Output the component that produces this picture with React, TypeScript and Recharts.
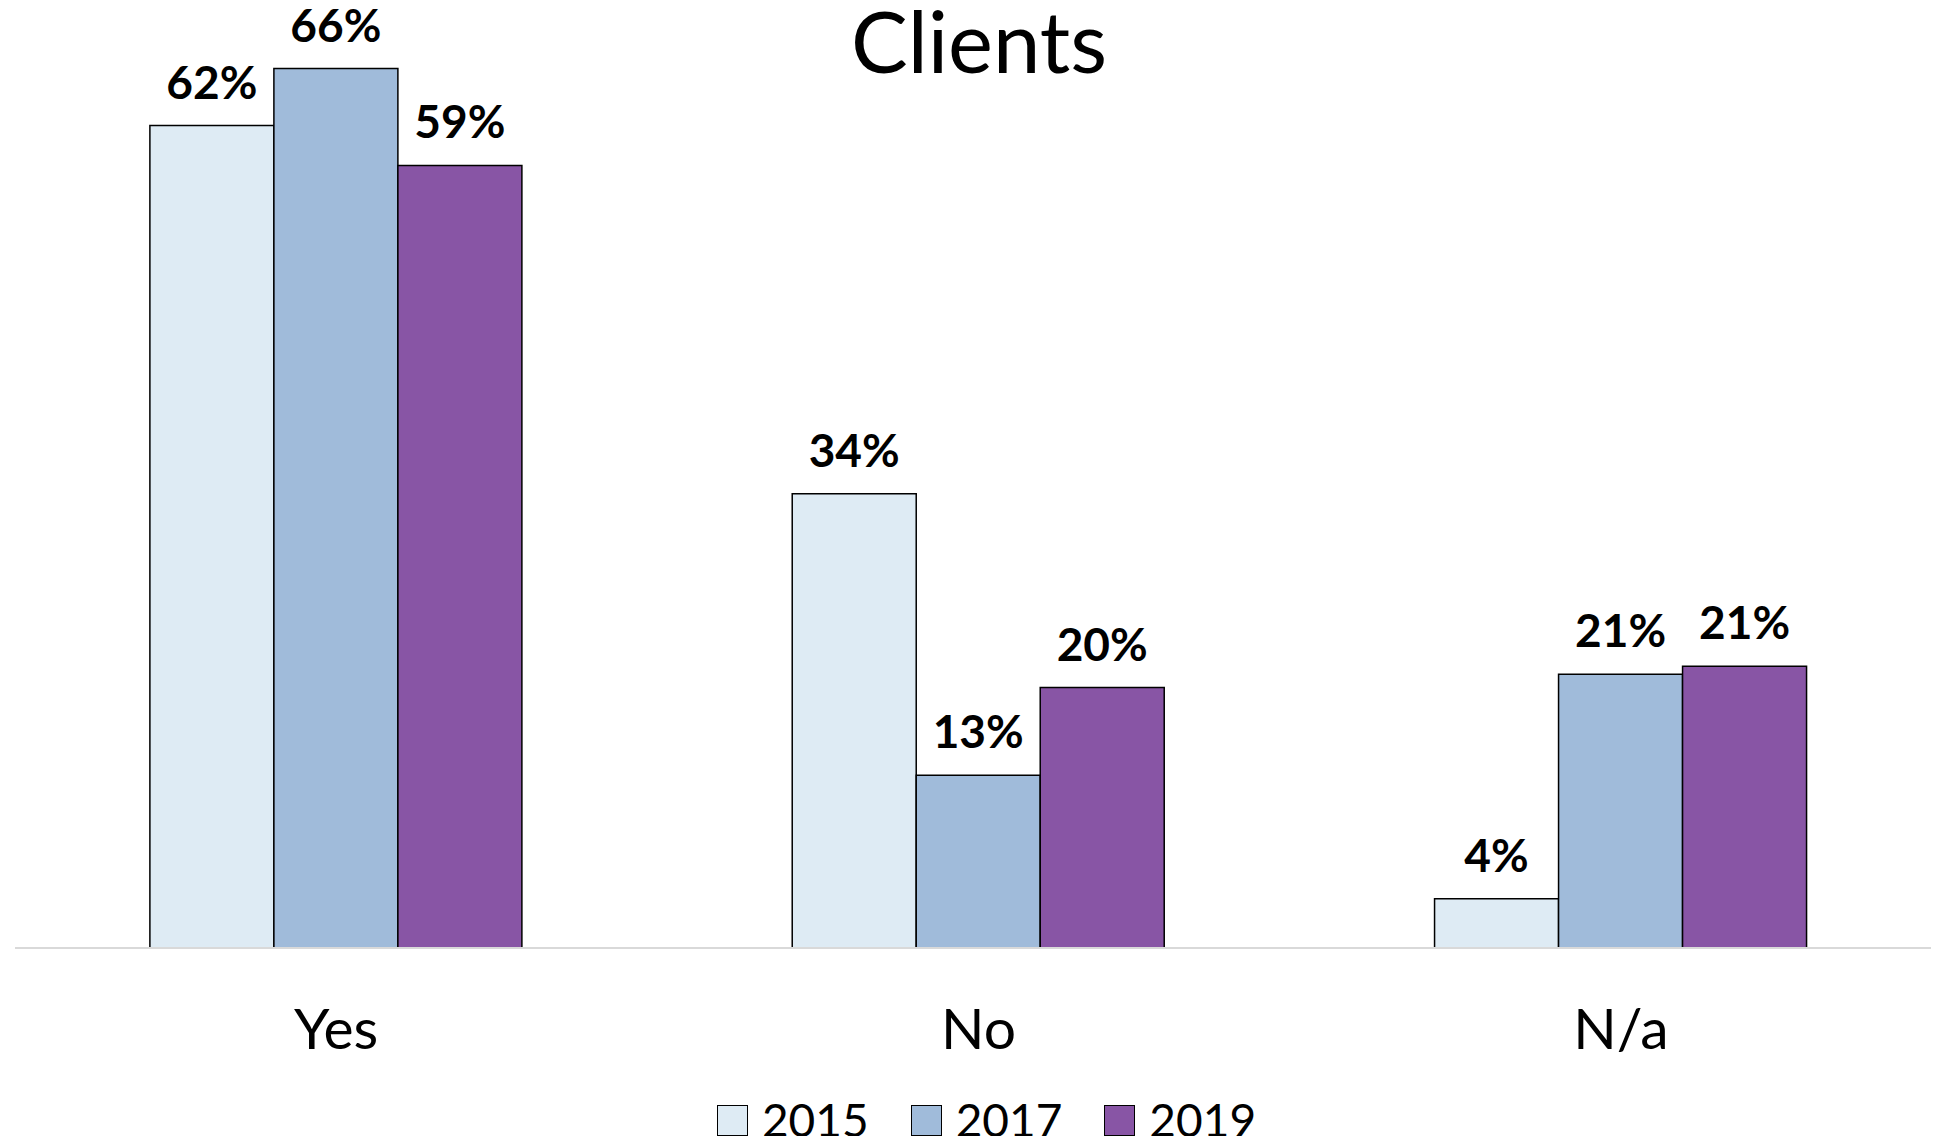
import { Bar, BarChart, LabelList, Legend, XAxis, YAxis } from "recharts";

const CATEGORIES = ["Yes", "No", "N/a"];
const YEARS = ["2015", "2017", "2019"];
const VALUES_2015 = [61.9, 34.2, 3.7];
const VALUES_2017 = [66.2, 13.0, 20.6];
const VALUES_2019 = [58.9, 19.6, 21.2];
const COLORS: Record<string, string> = {
  "2015": "#deebf4",
  "2017": "#a0bbda",
  "2019": "#8855a5",
};

const data = CATEGORIES.map((c, i) => ({
  name: c,
  "2015": VALUES_2015[i],
  "2017": VALUES_2017[i],
  "2019": VALUES_2019[i],
}));

const FONT = "Lato, 'Open Sans', sans-serif";

function CategoryTick({ x, y, payload }: { x?: number; y?: number; payload?: { value: string } }) {
  return (
    <text
      x={x}
      y={(y ?? 0) + 101}
      textAnchor="middle"
      fontFamily={FONT}
      fontSize={57}
      fill="#000"
    >
      {payload?.value}
    </text>
  );
}

function YearLegend() {
  return (
    <div
      style={{
        display: "flex",
        justifyContent: "center",
        alignItems: "center",
        gap: 42,
        fontFamily: FONT,
        fontSize: 46,
        color: "#000",
        paddingLeft: 34,
        height: 40,
      }}
    >
      {YEARS.map((y) => (
        <div key={y} style={{ display: "flex", alignItems: "center", gap: 14, height: 40 }}>
          <span
            style={{
              display: "inline-block",
              boxSizing: "border-box",
              width: 31,
              height: 31,
              background: COLORS[y],
              border: "1.5px solid #000",
            }}
          />
          <span style={{ lineHeight: "40px" }}>{y}</span>
        </div>
      ))}
    </div>
  );
}

const pct = (v: unknown) => `${Math.round(Number(v))}%`;

export default function App() {
  return (
    <div
      style={{
        position: "relative",
        width: 1939,
        height: 1144,
        margin: -8,
        overflow: "hidden",
        background: "#fff",
      }}
    >
      <BarChart
        width={1939}
        height={1144}
        data={data}
        margin={{ top: 18, right: -3, left: 15, bottom: 96 }}
        barCategoryGap="21%"
        barGap={0}
      >
        <XAxis
          dataKey="name"
          height={100}
          axisLine={{ stroke: "#d9d9d9", strokeWidth: 2 }}
          tickLine={false}
          tickSize={0}
          tickMargin={0}
          tick={<CategoryTick />}
        />
        <YAxis hide domain={[0, 70]} />
        <Legend
          layout="horizontal"
          verticalAlign="middle"
          align="center"
          content={<YearLegend />}
          wrapperStyle={{ top: 1100, left: 0, width: 1939, bottom: "auto" }}
        />
        {YEARS.map((y) => (
          <Bar
            key={y}
            dataKey={y}
            fill={COLORS[y]}
            stroke="#000"
            strokeWidth={1.5}
            isAnimationActive={false}
          >
            <LabelList
              dataKey={y}
              position="top"
              offset={27}
              formatter={pct}
              fontFamily={FONT}
              fontWeight="bold"
              fontSize={46}
              fill="#000"
            />
          </Bar>
        ))}
      </BarChart>
      <svg
        width={1939}
        height={120}
        style={{ position: "absolute", left: 0, top: 0, pointerEvents: "none" }}
      >
        <text x={979} y={73} textAnchor="middle" fontFamily={FONT} fontSize={85} fill="#000">
          Clients
        </text>
      </svg>
    </div>
  );
}
